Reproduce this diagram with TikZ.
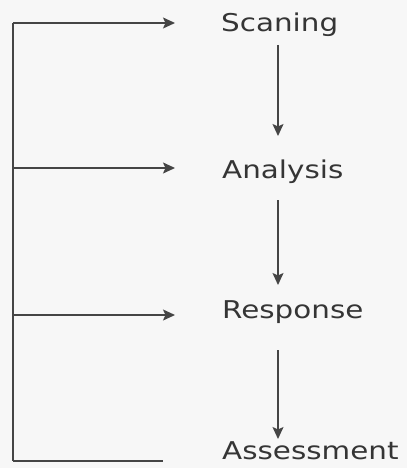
\documentclass[tikz,border=0pt]{standalone}
\usepackage{fontspec}
\newfontfamily\widefont[FakeStretch=1.2]{DejaVu Sans}
\usetikzlibrary{arrows.meta}
\definecolor{linec}{HTML}{454545}
\definecolor{textc}{HTML}{353535}
\definecolor{paper}{HTML}{F7F7F7}
\begin{document}
\begin{tikzpicture}[x=1pt,y=-1pt,
  lab/.style={anchor=base west, inner sep=0pt, text=textc, font=\widefont\fontsize{24.5}{29}\selectfont},
  conn/.style={draw=linec, line width=1.5pt},
  arr/.style={conn, -{Stealth[length=12pt,width=11pt,inset=2.5pt]}}]
\fill[paper] (0,0) rectangle (407,468);
\useasboundingbox (0,0) rectangle (407,468);
% labels
\node[lab] (scan) at (221,31.5) {Scaning};
\node[lab] (anal) at (222,178) {Analysis};
\node[lab] (resp) at (222,318) {Response};
\node[lab] (asse) at (222,459) {Assessment};
% coordinates
\coordinate (c1) at (13,23);
\coordinate (c2) at (13,168);
\coordinate (c3) at (13,315);
\coordinate (c4) at (13,461);
\coordinate (e1) at (175,23);
\coordinate (e2) at (175,168);
\coordinate (e3) at (175,315);
\coordinate (e4) at (163,461);
\coordinate (v1s) at (278,45);
\coordinate (v1e) at (278,136);
\coordinate (v2s) at (278,200);
\coordinate (v2e) at (278,285);
\coordinate (v3s) at (278,350);
\coordinate (v3e) at (278,439);
% feedback loop
\draw[conn] (c1) -- (c4);
\draw[arr] (c1) -- (e1);
\draw[arr] (c2) -- (e2);
\draw[arr] (c3) -- (e3);
\draw[conn] (c4) -- (e4);
% flow
\draw[arr] (v1s) -- (v1e);
\draw[arr] (v2s) -- (v2e);
\draw[arr] (v3s) -- (v3e);
\end{tikzpicture}
\end{document}
